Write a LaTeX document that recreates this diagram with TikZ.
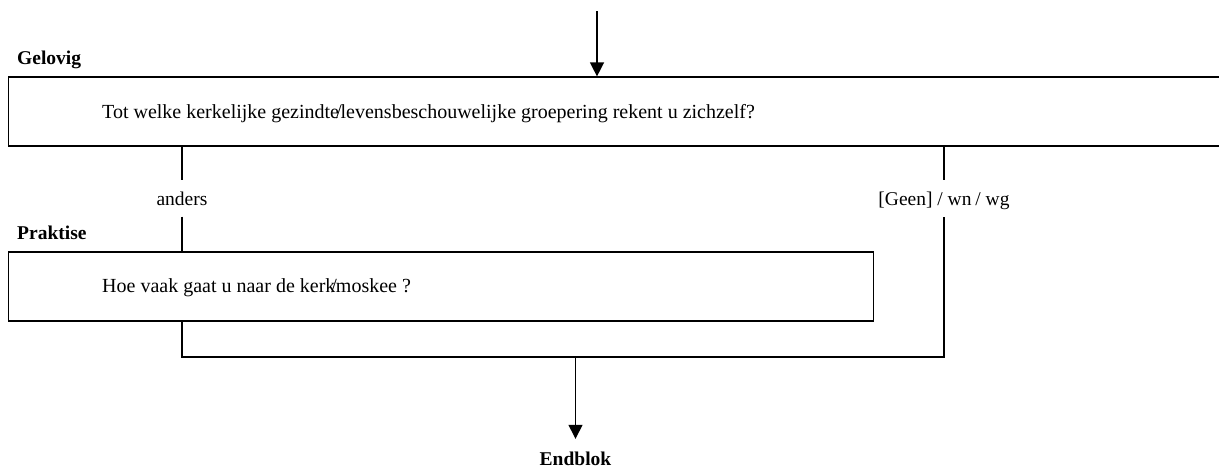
\documentclass[tikz,border=0pt]{standalone}
\usepackage{fontspec}
\setmainfont{Liberation Serif}
\usetikzlibrary{arrows.meta}
\begin{document}
\begin{tikzpicture}[x=1pt,y=-1pt,
  every node/.style={font=\fontsize{19.5pt}{23pt}\selectfont},
  qbox/.style={draw,line width=1.2pt,rectangle,inner sep=0pt,minimum height=69pt},
  qtext/.style={inner sep=0pt,anchor=base west,font=\fontsize{20pt}{24pt}\selectfont},
  blocklabel/.style={inner sep=0pt,anchor=base west,font=\fontsize{19.5pt}{23pt}\selectfont\bfseries},
  branch/.style={inner xsep=0pt,inner ysep=11.5pt,text height=13.5pt,text depth=0pt,anchor=base},
  conn/.style={line width=1.2pt},
  arr/.style={line width=1.4pt,-{Triangle[width=14pt,length=14pt]}}
]
\useasboundingbox (0,0) rectangle (1219,474);
% block labels
\node[blocklabel] (gelovig) at (17,64) {Gelovig};
\node[blocklabel] (praktise) at (17,239) {Praktise};
% question boxes
\node[qbox,minimum width=1222pt] (b1) at (619.5,111.5) {};
\node[qtext] (t1) at (102,118) {Tot welke kerkelijke gezindte\kern-3pt/\kern-1pt levensbeschouwelijke groepering rekent u zichzelf?};
\node[qbox,minimum width=865pt] (b2) at (441,286.5) {};
\node[qtext] (t2) at (102,292) {Hoe vaak gaat u naar de kerk\kern-4pt/\kern-1pt moskee ?};
% branch labels
\node[branch] (la) at (182,205) {anders};
\node[branch] (lg) at (944,205) {[Geen] / wn\kern-1pt\ / wg};
% end
\node[inner xsep=0pt,inner ysep=12.5pt,text height=13.5pt,text depth=0pt,anchor=base,font=\fontsize{19.5pt}{23pt}\selectfont\bfseries] (end) at (575.5,465) {Endblok};
\coordinate (start) at (597,11);
\coordinate (j) at (575.5,357);
% connectors
\draw[arr] (start) -- (start |- b1.north);
\draw[conn] (la |- b1.south) -- (la.north);
\draw[conn] (la.south) -- (la |- b2.north);
\draw[conn] (lg |- b1.south) -- (lg.north);
\draw[conn] (la |- b2.south) |- (lg |- j) -- (lg.south);
\draw[arr] (j) -- (end.north);
\end{tikzpicture}
\end{document}
